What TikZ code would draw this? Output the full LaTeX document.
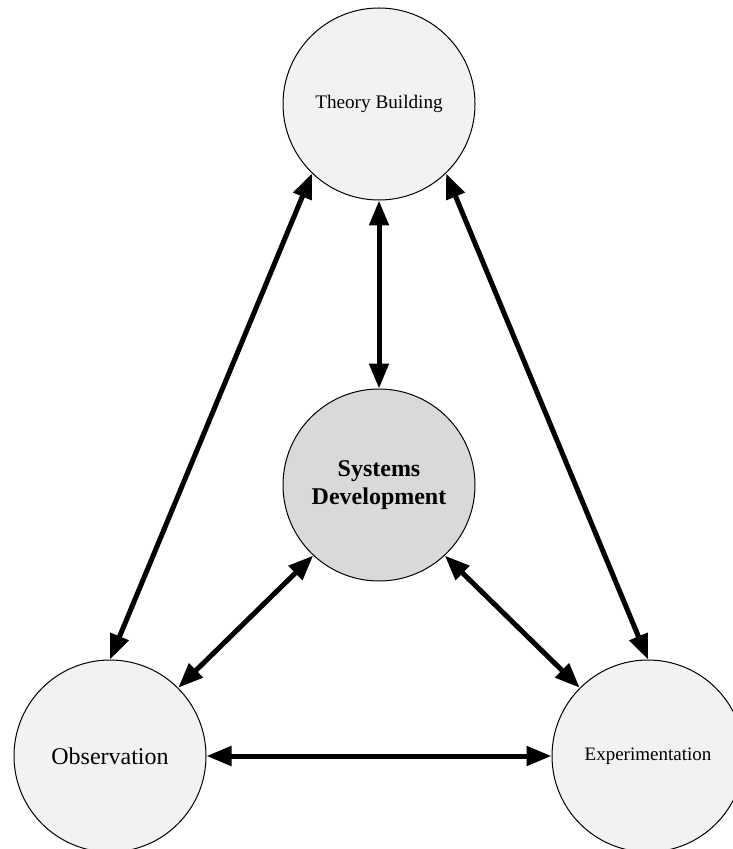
\documentclass[tikz,border=0pt]{standalone}
\usepackage{fontspec}
\setmainfont{Liberation Serif}
\usetikzlibrary{arrows.meta}

\begin{document}
\begin{tikzpicture}[x=0.5pt,y=-0.5pt,
  >={Triangle[length=12.5pt,width=9.5pt]},
  phase/.style={circle,draw,line width=0.5pt,fill=black!5,minimum size=96pt,inner sep=0pt,align=center},
  core/.style={phase,fill=black!15,font=\fontsize{12}{14}\selectfont\bfseries},
  link/.style={<->,line width=2.5pt}]
\useasboundingbox (0,0) rectangle (732,849);
\node[phase,font=\fontsize{9.6}{11}\selectfont] (theory) at (379,104) {Theory Building};
\node[core] (sysdev) at (379,485) {Systems\\Development};
\node[phase,font=\fontsize{12}{14}\selectfont] (obs) at (110,756) {Observation};
\node[phase,font=\fontsize{9.5}{11}\selectfont] (exper) at (648,756) {Experimentation};
\draw[link] (theory.226) -- (obs.90);
\draw[link] (theory.314) -- (exper.90);
\draw[link] (theory.south) -- (sysdev.north);
\draw[link] (sysdev.227) -- (obs.45);
\draw[link] (sysdev.313) -- (exper.135);
\draw[link] (obs.east) -- (exper.west);
\end{tikzpicture}
\end{document}
